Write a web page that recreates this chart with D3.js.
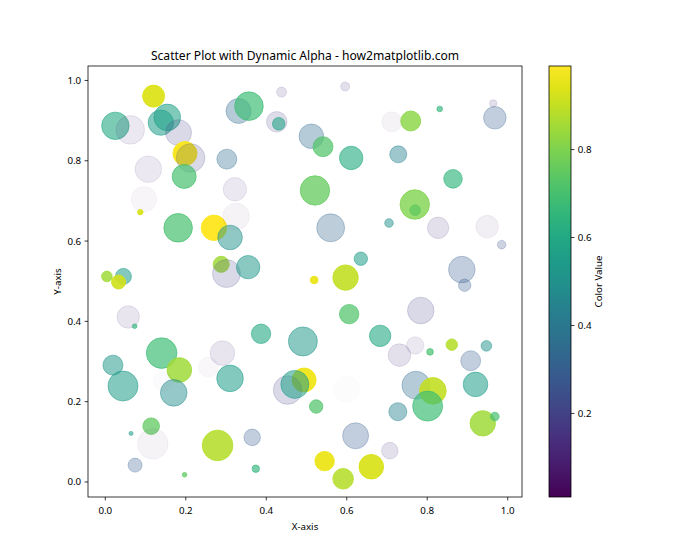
<!DOCTYPE html>
<html><head><meta charset="utf-8">
<script src="https://cdn.jsdelivr.net/npm/d3@7"></script>
<style>body{margin:0;background:#fff}text{font-family:"Noto Sans","DejaVu Sans",sans-serif;fill:#000}</style>
</head><body><svg id="c" width="700" height="560"></svg>
<script>
const xs=[0.120,0.025,0.062,0.138,0.154,0.182,0.198,0.212,0.196,0.107,0.096,0.087,0.181,0.270,0.325,0.310,0.322,0.302,0.331,0.357,0.438,0.426,0.431,0.512,0.596,0.712,0.759,0.831,0.964,0.968,0.541,0.611,0.728,0.864,0.521,0.769,0.770,0.560,0.705,0.827,0.949,0.985,0.635,0.288,0.301,0.355,0.597,0.519,0.886,0.893,0.004,0.045,0.033,0.057,0.073,0.606,0.784,0.140,0.291,0.387,0.491,0.683,0.731,0.770,0.807,0.861,0.947,0.908,0.019,0.044,0.184,0.144,0.170,0.256,0.310,0.494,0.453,0.471,0.600,0.772,0.814,0.801,0.920,0.114,0.064,0.524,0.727,0.938,0.968,0.118,0.279,0.365,0.622,0.707,0.074,0.197,0.374,0.545,0.661,0.591];
const ys=[0.961,0.887,0.877,0.895,0.908,0.870,0.818,0.807,0.761,0.779,0.704,0.672,0.633,0.633,0.661,0.609,0.729,0.804,0.924,0.936,0.971,0.897,0.892,0.861,0.985,0.897,0.899,0.929,0.943,0.907,0.835,0.807,0.816,0.755,0.726,0.691,0.677,0.633,0.645,0.633,0.636,0.591,0.556,0.542,0.519,0.535,0.509,0.503,0.529,0.490,0.512,0.512,0.498,0.411,0.388,0.418,0.427,0.321,0.321,0.369,0.350,0.364,0.316,0.340,0.324,0.342,0.339,0.302,0.291,0.239,0.279,0.250,0.222,0.286,0.258,0.254,0.229,0.243,0.231,0.241,0.227,0.189,0.243,0.139,0.121,0.188,0.175,0.146,0.163,0.095,0.091,0.111,0.115,0.078,0.042,0.018,0.033,0.052,0.038,0.008];
const sizes=[512,794,865,682,748,715,609,865,609,748,682,31,865,682,748,640,579,423,661,865,106,449,168,640,86,423,423,33,58,540,423,579,306,366,914,914,119,829,78,484,540,78,190,271,829,579,682,61,748,163,119,271,207,531,22,398,748,990,640,398,889,484,540,320,46,137,119,423,423,952,640,423,748,423,748,609,865,829,748,829,748,952,640,291,17,190,343,682,78,990,990,291,715,291,207,22,58,398,640,449];
const colors=[0.94,0.60,0.10,0.55,0.57,0.20,0.98,0.20,0.70,0.10,0.04,0.93,0.70,0.99,0.05,0.50,0.10,0.35,0.35,0.68,0.15,0.18,0.58,0.35,0.15,0.05,0.82,0.65,0.15,0.30,0.72,0.62,0.45,0.65,0.76,0.80,0.75,0.32,0.50,0.15,0.07,0.25,0.55,0.85,0.20,0.52,0.90,0.96,0.30,0.30,0.85,0.55,0.92,0.12,0.65,0.72,0.20,0.68,0.12,0.60,0.52,0.60,0.15,0.10,0.70,0.88,0.50,0.30,0.52,0.55,0.85,0.02,0.48,0.03,0.55,0.97,0.20,0.55,0.01,0.35,0.90,0.68,0.55,0.75,0.55,0.72,0.45,0.85,0.70,0.05,0.88,0.30,0.30,0.15,0.30,0.75,0.65,0.96,0.93,0.88];
const xTicks=[0.0,0.2,0.4,0.6,0.8,1.0];
const yTicks=[0.0,0.2,0.4,0.6,0.8,1.0];
const cTicks=[0.2,0.4,0.6,0.8];
const title="Scatter Plot with Dynamic Alpha - how2matplotlib.com";

const DPI=70, pt=DPI/72;
const svg=d3.select("#c");
const L=88,R=522,T=66,B=497;
const x=d3.scaleLinear().domain([-0.043,1.0355]).range([L,R]);
const y=d3.scaleLinear().domain([-0.0374,1.036]).range([B,T]);
const ext=d3.extent(colors);
const cn=d3.scaleLinear().domain(ext).range([0,1]);
const col=v=>d3.interpolateViridis(cn(v));
const rgba=v=>{const c=d3.rgb(col(v));c.opacity=v;return c.formatRgb();};
const fs=10*pt, tl=3.5*pt;

const pts=d3.range(xs.length).map(i=>({x:xs[i],y:ys[i],s:sizes[i],c:colors[i]}));
const g=svg.append("g");
g.append("defs").append("clipPath").attr("id","clip").append("rect").attr("x",L).attr("y",T).attr("width",R-L).attr("height",B-T);
g.append("g").attr("clip-path","url(#clip)").selectAll("circle").data(pts).join("circle")
 .attr("cx",d=>x(d.x)).attr("cy",d=>y(d.y)).attr("r",d=>Math.sqrt(d.s)/2*pt)
 .attr("fill",d=>rgba(d.c)).attr("stroke",d=>rgba(d.c)).attr("stroke-width",1*pt);

g.append("rect").attr("x",L).attr("y",T).attr("width",R-L).attr("height",B-T).attr("fill","none").attr("stroke","#000").attr("stroke-width",0.8*pt);
const xa=g.append("g");
xa.selectAll("line").data(xTicks).join("line").attr("x1",d=>x(d)).attr("x2",d=>x(d)).attr("y1",B).attr("y2",B+tl).attr("stroke","#000").attr("stroke-width",0.8*pt);
xa.selectAll("text").data(xTicks).join("text").attr("x",d=>x(d)).attr("y",514).attr("text-anchor","middle").attr("font-size",fs).text(d=>d3.format(".1f")(d));
const ya=g.append("g");
ya.selectAll("line").data(yTicks).join("line").attr("y1",d=>y(d)).attr("y2",d=>y(d)).attr("x1",L).attr("x2",L-tl).attr("stroke","#000").attr("stroke-width",0.8*pt);
ya.selectAll("text").data(yTicks).join("text").attr("x",L-2*tl).attr("y",d=>y(d)+3.5).attr("text-anchor","end").attr("font-size",fs).text(d=>d3.format(".1f")(d));
svg.append("text").attr("x",(L+R)/2).attr("y",530).attr("text-anchor","middle").attr("font-size",fs).text("X-axis");
svg.append("text").attr("transform",`translate(61,${(T+B)/2}) rotate(-90)`).attr("text-anchor","middle").attr("font-size",fs).text("Y-axis");
svg.append("text").attr("x",(L+R)/2).attr("y",60).attr("text-anchor","middle").attr("font-size",12.1).text(title);

const CL=549,CR=571;
const cy=d3.scaleLinear().domain(ext).range([B,T]);
const grad=svg.append("defs").append("linearGradient").attr("id","vg").attr("x1",0).attr("y1",1).attr("x2",0).attr("y2",0);
d3.range(0,1.0001,0.05).forEach(t=>grad.append("stop").attr("offset",t).attr("stop-color",d3.interpolateViridis(t)));
svg.append("rect").attr("x",CL).attr("y",T).attr("width",CR-CL).attr("height",B-T).attr("fill","url(#vg)").attr("stroke","#000").attr("stroke-width",0.8*pt);
const ca=svg.append("g");
ca.selectAll("line").data(cTicks).join("line").attr("y1",d=>cy(d)).attr("y2",d=>cy(d)).attr("x1",CR).attr("x2",CR+tl).attr("stroke","#000").attr("stroke-width",0.8*pt);
ca.selectAll("text").data(cTicks).join("text").attr("x",CR+2*tl).attr("y",d=>cy(d)+3.5).attr("font-size",fs).text(d=>d3.format(".1f")(d));
svg.append("text").attr("transform",`translate(602,${(T+B)/2}) rotate(-90)`).attr("text-anchor","middle").attr("font-size",fs).text("Color Value");
</script></body></html>
